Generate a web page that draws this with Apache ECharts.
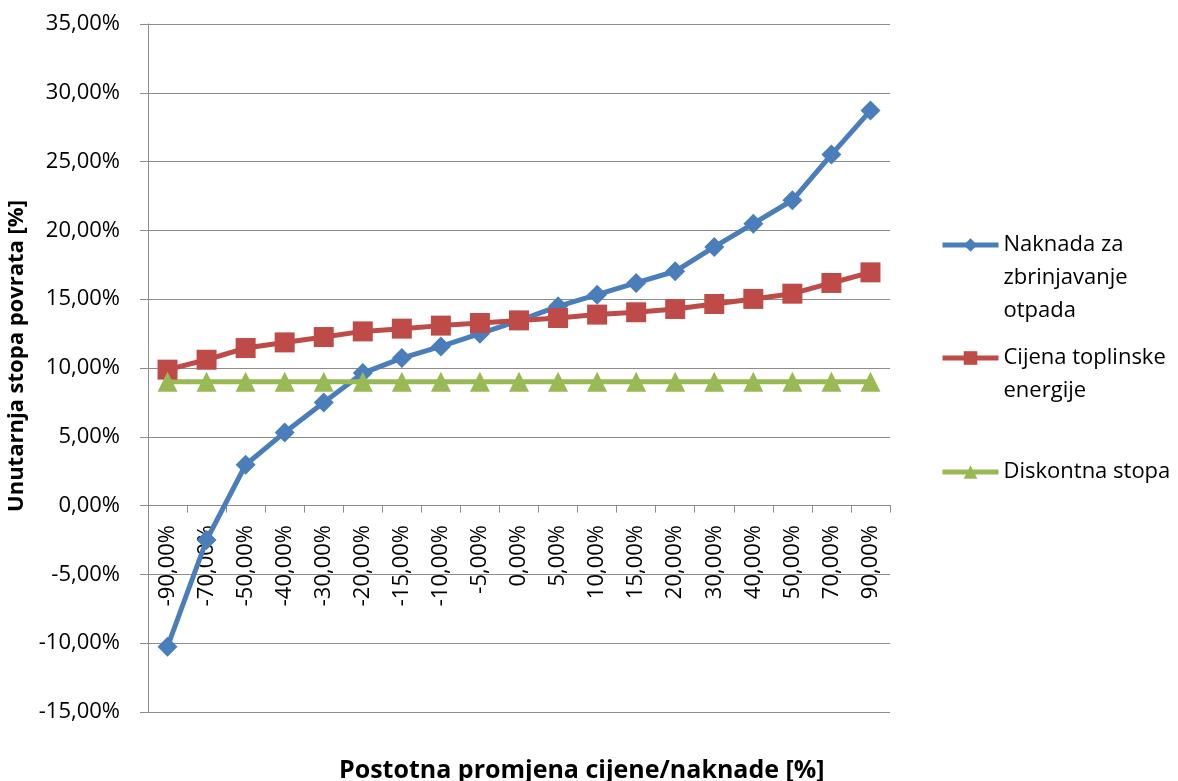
<!DOCTYPE html>
<html>
<head>
<meta charset="utf-8">
<script src="https://cdn.jsdelivr.net/npm/echarts@6/dist/echarts.min.js"></script>
<style>
html,body{margin:0;padding:0;background:#fff;}
#chart{width:1178px;height:781px;}
</style>
</head>
<body>
<div id="chart"></div>
<script>
// Categories (x axis tick labels)
var categories = ['-90,00%','-70,00%','-50,00%','-40,00%','-30,00%','-20,00%','-15,00%','-10,00%','-5,00%','0,00%','5,00%','10,00%','15,00%','20,00%','30,00%','40,00%','50,00%','70,00%','90,00%'];
// Series values (in %)
var naknada = [-10.25,-2.5,2.97,5.32,7.5,9.63,10.72,11.57,12.49,13.45,14.48,15.33,16.18,17.03,18.8,20.49,22.19,25.51,28.71];
var cijena  = [9.88,10.6,11.45,11.86,12.25,12.66,12.86,13.08,13.27,13.46,13.63,13.88,14.05,14.29,14.65,15.02,15.4,16.18,16.95];
var diskont = [9.0,9.0,9.0,9.0,9.0,9.0,9.0,9.0,9.0,9.0,9.0,9.0,9.0,9.0,9.0,9.0,9.0,9.0,9.0];
var seriesNames = ['Naknada za\nzbrinjavanje\notpada','Cijena toplinske\nenergije','Diskontna stopa'];
var yMin = -15, yMax = 35, yStep = 5;

var FONT = 'Open Sans';
var grey = '#8c8c8c';
function fmt(v){ return v.toFixed(2).replace('.', ',') + '%'; }

var chart = echarts.init(document.getElementById('chart'), null, {renderer:'canvas'});
function legendCfg(name, top, prefix){
  return {
    data:[name], left:940, top:top, orient:'vertical', padding:0,
    itemWidth:56, itemHeight:17, itemGap:0,
    lineStyle:{width:5},
    formatter:function(n){ return prefix + n; },
    textStyle:{fontFamily:FONT, fontSize:22, color:'#000', lineHeight:33}
  };
}
chart.setOption({
  animation:false,
  backgroundColor:'#fff',
  textStyle:{fontFamily:FONT},
  title:{
    text:'Postotna promjena cijene/naknade [%]',
    left:334, top:753,
    textStyle:{fontFamily:FONT, fontSize:25, fontWeight:'bold', color:'#000'}
  },
  legend:[
    legendCfg(seriesNames[0], 245-82.5, '\n\n'),
    legendCfg(seriesNames[1], 358-49.5, '\n'),
    legendCfg(seriesNames[2], 472-16.5, '')
  ],
  grid:{left:148, right:288, top:24, bottom:69, containLabel:false, outerBoundsMode:'none'},
  xAxis:{
    type:'category', data:categories, boundaryGap:true,
    axisLine:{show:true, onZero:true, onZeroAxisIndex:0, lineStyle:{color:grey, width:1}},
    axisTick:{show:true, alignWithLabel:false, length:7, inside:false, lineStyle:{color:grey}},
    axisLabel:{interval:0, rotate:90, margin:-187, fontFamily:FONT, fontSize:22, color:'#000'},
    splitLine:{show:false}
  },
  yAxis:{
    type:'value', min:yMin, max:yMax, interval:yStep,
    name:'Unutarnja stopa povrata [%]', nameLocation:'middle', nameGap:116, nameRotate:90,
    nameTextStyle:{fontFamily:FONT, fontSize:22, fontWeight:'bold', color:'#000', padding:[0,0,0,24]},
    axisLine:{show:true, lineStyle:{color:grey, width:1}},
    axisTick:{show:true, length:8, lineStyle:{color:grey}},
    axisLabel:{margin:28, fontFamily:FONT, fontSize:22, color:'#000', formatter:fmt},
    splitLine:{show:true, lineStyle:{color:grey, width:1}}
  },
  series:[
    {name:seriesNames[0], type:'line', data:naknada, symbol:'diamond', symbolSize:20,
     lineStyle:{color:'#4a7ebb', width:5}, itemStyle:{color:'#4a7ebb'}},
    {name:seriesNames[1], type:'line', data:cijena, symbol:'rect', symbolSize:20,
     lineStyle:{color:'#be4b48', width:5}, itemStyle:{color:'#be4b48'}},
    {name:seriesNames[2], type:'line', data:diskont, symbol:'triangle', symbolSize:20,
     lineStyle:{color:'#98b954', width:5}, itemStyle:{color:'#98b954'}}
  ]
});
</script>
</body>
</html>
